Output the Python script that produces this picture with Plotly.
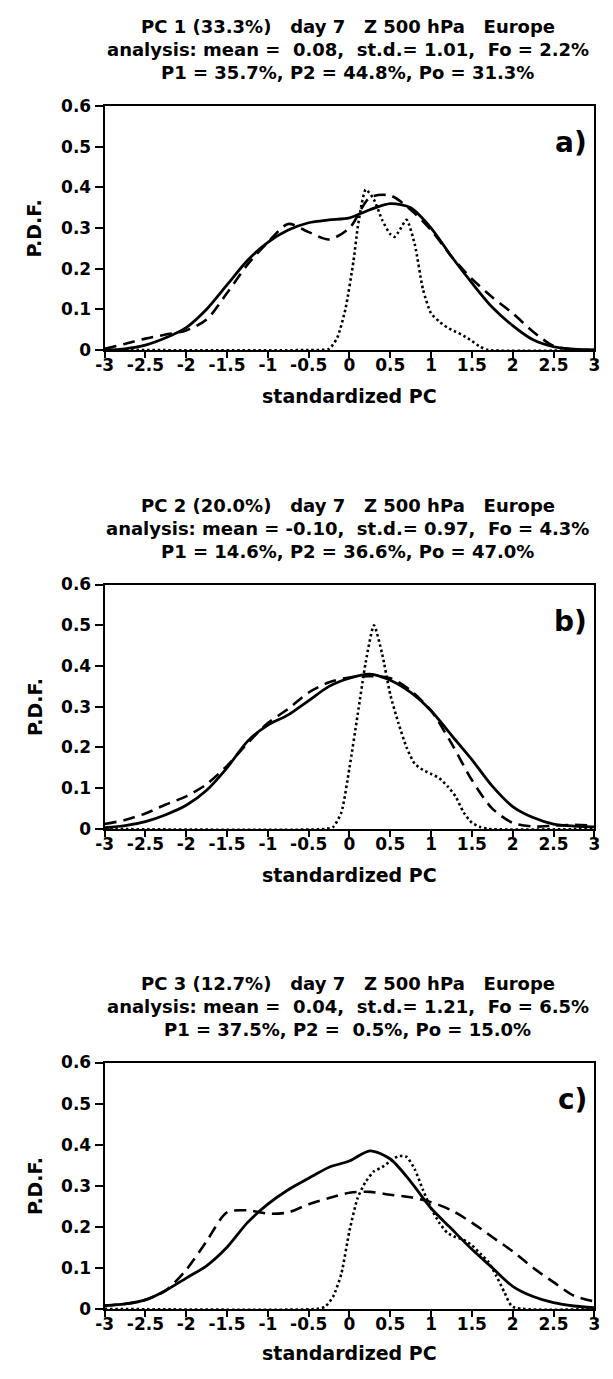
import plotly.graph_objects as go

W, H = 613, 1379

# ---------------- data ----------------
x_grid = [-3, -2.75, -2.5, -2.25, -2, -1.75, -1.5, -1.25, -1, -0.75, -0.5, -0.25,
          0, 0.25, 0.5, 0.75, 1, 1.25, 1.5, 1.75, 2, 2.25, 2.5, 2.75, 3]

pc1_solid = [0.0, 0.003, 0.012, 0.03, 0.055, 0.10, 0.16, 0.22, 0.265, 0.295, 0.313, 0.32,
             0.325, 0.345, 0.36, 0.35, 0.30, 0.23, 0.165, 0.105, 0.06, 0.025, 0.008, 0.002, 0.0]
pc1_dash = [0.003, 0.015, 0.028, 0.038, 0.048, 0.075, 0.14, 0.21, 0.265, 0.31, 0.29, 0.272,
            0.30, 0.375, 0.38, 0.345, 0.295, 0.23, 0.175, 0.13, 0.09, 0.045, 0.01, 0.001, 0.0]
pc1_dot_x = [-3, -0.5, -0.25, -0.15, -0.05, 0.05, 0.1, 0.15, 0.2, 0.3, 0.4, 0.5, 0.55, 0.6,
             0.7, 0.8, 0.9, 1.0, 1.1, 1.2, 1.3, 1.4, 1.5, 1.6, 1.7, 3]
pc1_dot = [0, 0, 0.003, 0.03, 0.1, 0.22, 0.3, 0.36, 0.395, 0.37, 0.32, 0.285, 0.278, 0.29,
           0.32, 0.26, 0.15, 0.09, 0.07, 0.055, 0.045, 0.035, 0.022, 0.008, 0.0, 0]

pc2_solid = [0.003, 0.008, 0.018, 0.035, 0.058, 0.095, 0.15, 0.215, 0.255, 0.28, 0.315, 0.35,
             0.37, 0.38, 0.365, 0.335, 0.29, 0.23, 0.17, 0.105, 0.055, 0.028, 0.012, 0.007, 0.005]
pc2_dash = [0.012, 0.022, 0.038, 0.06, 0.08, 0.11, 0.155, 0.21, 0.26, 0.295, 0.335, 0.36,
            0.372, 0.375, 0.37, 0.34, 0.29, 0.21, 0.12, 0.05, 0.015, 0.006, 0.008, 0.01, 0.008]
pc2_dot_x = [-3, -0.3, -0.2, -0.1, 0, 0.1, 0.2, 0.3, 0.4, 0.5, 0.6, 0.7, 0.8, 0.9, 1.0,
             1.1, 1.2, 1.3, 1.4, 1.5, 1.6, 1.7, 3]
pc2_dot = [0, 0, 0.005, 0.04, 0.15, 0.28, 0.41, 0.5, 0.43, 0.33, 0.26, 0.2, 0.16, 0.145, 0.135,
           0.125, 0.105, 0.08, 0.04, 0.015, 0.005, 0, 0]

pc3_solid = [0.008, 0.012, 0.022, 0.045, 0.075, 0.105, 0.15, 0.21, 0.255, 0.29, 0.318, 0.345,
             0.36, 0.385, 0.365, 0.31, 0.245, 0.195, 0.145, 0.10, 0.055, 0.03, 0.015, 0.007, 0.003]
pc3_dash = [0.008, 0.012, 0.022, 0.045, 0.095, 0.165, 0.235, 0.24, 0.232, 0.235, 0.255, 0.27,
            0.283, 0.285, 0.278, 0.272, 0.26, 0.24, 0.21, 0.175, 0.14, 0.1, 0.065, 0.032, 0.018]
pc3_dot_x = [-3, -0.4, -0.3, -0.2, -0.1, 0, 0.1, 0.2, 0.3, 0.4, 0.5, 0.6, 0.7, 0.8, 0.9,
             1.0, 1.1, 1.2, 1.3, 1.4, 1.5, 1.6, 1.7, 1.8, 1.9, 2.0, 3]
pc3_dot = [0, 0, 0.005, 0.03, 0.085, 0.19, 0.27, 0.31, 0.335, 0.345, 0.36, 0.372, 0.37, 0.34,
           0.29, 0.245, 0.21, 0.185, 0.175, 0.168, 0.155, 0.135, 0.115, 0.08, 0.04, 0.005, 0]

x_tick_vals = [-3, -2.5, -2, -1.5, -1, -0.5, 0, 0.5, 1, 1.5, 2, 2.5, 3]
x_tick_text = ["-3", "-2.5", "-2", "-1.5", "-1", "-0.5", "0", "0.5", "1", "1.5", "2", "2.5", "3"]
y_tick_vals = [0, 0.1, 0.2, 0.3, 0.4, 0.5, 0.6]
y_tick_text = ["0", "0.1", "0.2", "0.3", "0.4", "0.5", "0.6"]

titles = [
    ["PC 1 (33.3%)   day 7   Z 500 hPa   Europe",
     "analysis: mean =  0.08,  st.d.= 1.01,  Fo = 2.2%",
     "P1 = 35.7%, P2 = 44.8%, Po = 31.3%"],
    ["PC 2 (20.0%)   day 7   Z 500 hPa   Europe",
     "analysis: mean = -0.10,  st.d.= 0.97,  Fo = 4.3%",
     "P1 = 14.6%, P2 = 36.6%, Po = 47.0%"],
    ["PC 3 (12.7%)   day 7   Z 500 hPa   Europe",
     "analysis: mean =  0.04,  st.d.= 1.21,  Fo = 6.5%",
     "P1 = 37.5%, P2 =  0.5%, Po = 15.0%"],
]
panel_labels = ["a)", "b)", "c)"]
x_title = "standardized PC"
y_title = "P.D.F."

panels = [
    (pc1_solid, pc1_dash, pc1_dot_x, pc1_dot),
    (pc2_solid, pc2_dash, pc2_dot_x, pc2_dot),
    (pc3_solid, pc3_dash, pc3_dot_x, pc3_dot),
]

# ---------------- layout geometry (pixels) ----------------
X_LEFT, X_RIGHT = 98, 600
panel_top = [97.5, 583, 1068]
panel_bot = [345, 831, 1318]
title_y = [[17, 40, 63], [503, 526, 549], [988, 1011, 1034]]
xtitle_y = [392, 878, 1363]
TITLE_X = 347

FONT = "DejaVu Sans"


def px(x):
    return x / W


def py(y):
    return 1 - y / H


def nb(s):
    return s.replace(" ", "\u00a0")


fig = go.Figure()
annotations = []

for i, (solid, dash, dot_x, dot) in enumerate(panels):
    xa = "x" if i == 0 else f"x{i+1}"
    ya = "y" if i == 0 else f"y{i+1}"
    fig.add_trace(go.Scatter(x=dot_x, y=dot, mode="lines", xaxis=xa, yaxis=ya,
                             line=dict(color="black", width=2.6, dash="2.5px,2.8px",
                                       shape="spline", smoothing=0.6),
                             showlegend=False, hoverinfo="skip"))
    fig.add_trace(go.Scatter(x=x_grid, y=dash, mode="lines", xaxis=xa, yaxis=ya,
                             line=dict(color="black", width=2.6, dash="12px,7px",
                                       shape="spline", smoothing=0.8),
                             showlegend=False, hoverinfo="skip"))
    fig.add_trace(go.Scatter(x=x_grid, y=solid, mode="lines", xaxis=xa, yaxis=ya,
                             line=dict(color="black", width=2.8,
                                       shape="spline", smoothing=0.8),
                             showlegend=False, hoverinfo="skip"))

    axis_common = dict(showgrid=False, zeroline=False, showline=True, linecolor="black",
                       linewidth=2, mirror=True, ticks="outside", tickcolor="black",
                       tickwidth=2,
                       tickfont=dict(family=FONT, size=17, color="black", weight="bold"))
    xkey = "xaxis" if i == 0 else f"xaxis{i+1}"
    ykey = "yaxis" if i == 0 else f"yaxis{i+1}"
    fig.layout[xkey] = dict(axis_common, domain=[px(X_LEFT), px(X_RIGHT)], range=[-3, 3],
                            tickvals=x_tick_vals, ticktext=x_tick_text, ticklen=6,
                            ticklabelstandoff=-7, anchor=ya, fixedrange=True)
    fig.layout[ykey] = dict(axis_common, domain=[py(panel_bot[i]), py(panel_top[i])],
                            range=[0, 0.6], tickvals=y_tick_vals, ticktext=y_tick_text,
                            ticklen=8, anchor=xa, fixedrange=True)

    for j, t in enumerate(titles[i]):
        annotations.append(dict(text=nb(t), x=px(TITLE_X), y=py(title_y[i][j]),
                                xref="paper", yref="paper", xanchor="center",
                                yanchor="middle", showarrow=False,
                                font=dict(family=FONT, size=18, color="black", weight="bold")))
    annotations.append(dict(text=x_title, x=px((X_LEFT + X_RIGHT) / 2), y=py(xtitle_y[i]),
                            xref="paper", yref="paper", xanchor="center", yanchor="middle",
                            showarrow=False,
                            font=dict(family=FONT, size=19, color="black", weight="bold")))
    annotations.append(dict(text=y_title, x=px(26), y=py((panel_top[i] + panel_bot[i]) / 2),
                            xref="paper", yref="paper", xanchor="center", yanchor="middle",
                            textangle=-90, showarrow=False,
                            font=dict(family=FONT, size=19, color="black", weight="bold")))
    annotations.append(dict(text=panel_labels[i], x=0.99, y=0.51,
                            xref=f"{xa} domain", yref=ya, xanchor="right", yanchor="middle",
                            showarrow=False,
                            font=dict(family=FONT, size=28, color="black", weight="bold")))

fig.update_layout(width=W, height=H, margin=dict(l=0, r=0, t=0, b=0),
                  paper_bgcolor="white", plot_bgcolor="white",
                  annotations=annotations, showlegend=False)

fig.write_html("out.html")
